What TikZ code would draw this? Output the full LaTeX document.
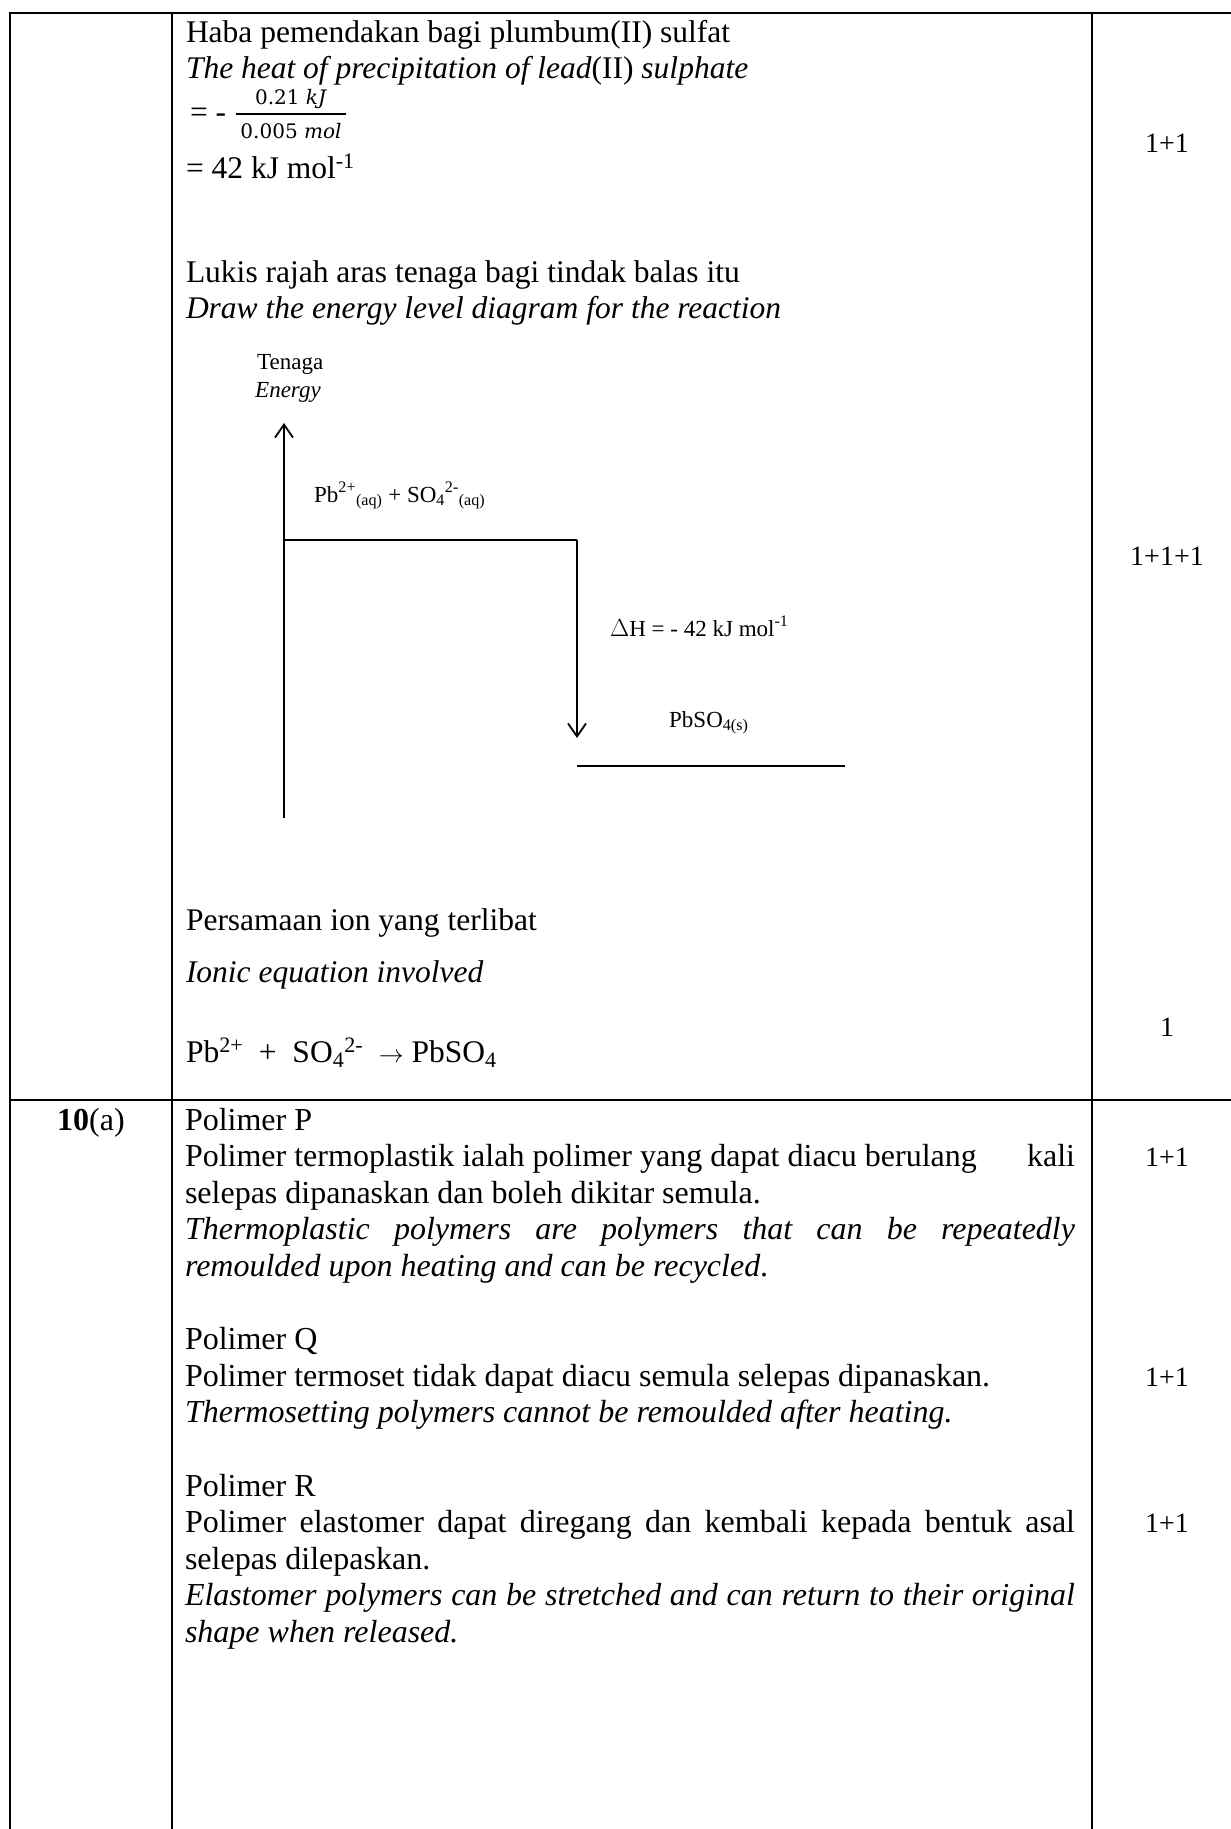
\documentclass[tikz,border=0pt]{standalone}
\usepackage{fontspec}
\setmainfont{Liberation Serif}
\newfontfamily\fracfont{DejaVu Serif}
\usetikzlibrary{arrows.meta}
\newcommand{\JustLine}[1]{\hbox to 890pt{#1}}
\begin{document}
\begin{tikzpicture}[x=1pt,y=-1pt,
  body/.style={anchor=base west,inner sep=0pt,outer sep=0pt,font=\fontsize{31.5}{36}\selectfont},
  bodyit/.style={body,font=\fontsize{31.5}{36}\selectfont\itshape},
  lowbody/.style={anchor=base west,inner sep=0pt,outer sep=0pt,font=\fontsize{32}{36}\selectfont},
  lowbodyit/.style={lowbody,font=\fontsize{32}{36}\selectfont\itshape},
  frac/.style={anchor=base,inner sep=0pt,font=\fracfont\fontsize{20}{22}\selectfont},
  dgm/.style={anchor=base west,inner sep=0pt,font=\fontsize{23}{26}\selectfont},
  markstyle/.style={anchor=base,inner sep=0pt,font=\fontsize{28}{32}\selectfont},
  rule/.style={line width=2.4pt},
  axisline/.style={line width=1.8pt},
  levelline/.style={line width=2.6pt},
  tipped/.style={-{Straight Barb[length=13pt,width=18pt]}}]
\useasboundingbox (0,0) rectangle (1231,1829);
% table
\coordinate (tl) at (10,13); \coordinate (tr) at (1231,13);
\coordinate (bl) at (10,1829);
\coordinate (c1t) at (172,13); \coordinate (c1b) at (172,1829);
\coordinate (c2t) at (1092,13); \coordinate (c2b) at (1092,1829);
\coordinate (rl) at (10,1100); \coordinate (rr) at (1231,1100);
\draw[rule] (bl) -- (tl) -- (tr);
\draw[rule] (c1t) -- (c1b);
\draw[rule] (c2t) -- (c2b);
\draw[rule] (rl) -- (rr);
% upper text
\node[body] (t1) at (186,42) {Haba pemendakan bagi plumbum(II) sulfat};
\node[bodyit] (t2) at (186,78) {The heat of precipitation of lead\upshape(II)\itshape\ sulphate};
\node[body] (feq) at (190,122) {= -};
\node[frac] (fnum) at (291,104) {0.21 \textit{kJ}};
\node[frac] (fden) at (291,138) {0.005 \textit{mol}};
\coordinate (fbl) at (236,114); \coordinate (fbr) at (346,114);
\draw[line width=1.4pt] (fbl) -- (fbr);
\node[body] (t3) at (186,178) {= 42 kJ mol\textsuperscript{-1}};
\node[body] (t4) at (186,282) {Lukis rajah aras tenaga bagi tindak balas itu};
\node[bodyit] (t5) at (186,318) {Draw the energy level diagram for the reaction};
% diagram
\node[dgm] (ten) at (257,369) {Tenaga};
\node[dgm,font=\fontsize{23}{26}\selectfont\itshape] (eng) at (255,397) {Energy};
\coordinate (axb) at (284,818); \coordinate (axt) at (284,423);
\draw[axisline,tipped] (axb) -- (axt);
\coordinate (u0) at (284,540); \coordinate (u1) at (577,540);
\draw[levelline] (u0) -- (u1);
\coordinate (dend) at (577,738);
\draw[axisline,tipped] (u1) -- (dend);
\coordinate (l0) at (577,766); \coordinate (l1) at (845,766);
\draw[levelline] (l0) -- (l1);
\node[dgm] (react) at (314,502) {Pb\textsuperscript{2+}\textsubscript{(aq)} + SO\textsubscript{4}\textsuperscript{2-}\textsubscript{(aq)}};
\node[dgm] (dH) at (610,636) {$\Delta$H = - 42 kJ mol\textsuperscript{-1}};
\node[dgm] (prod) at (669,727) {PbSO\textsubscript{4(s)}};
% ionic equation
\node[body] (t6) at (186,930) {Persamaan ion yang terlibat};
\node[bodyit] (t7) at (186,982) {Ionic equation involved};
\node[body] (t8) at (186,1062) {Pb\textsuperscript{2+}~ + ~SO\textsubscript{4}\textsuperscript{2-}~ $\rightarrow$ PbSO\textsubscript{4}};
% marks upper
\node[markstyle] (m1) at (1167,152) {1+1};
\node[markstyle] (m2) at (1167,565) {1+1+1};
\node[markstyle] (m3) at (1167,1036) {1};
% lower
\node[lowbody,anchor=base] (q) at (91,1130) {\textbf{10}(a)};
\node[lowbody] (p1) at (185,1130) {Polimer P};
\node[lowbody] (p2) at (185,1166.6) {\JustLine{Polimer termoplastik ialah polimer yang dapat diacu berulang\hfill kali}};
\node[lowbody] (p3) at (185,1203.2) {selepas dipanaskan dan boleh dikitar semula.};
\node[lowbodyit] (p4) at (185,1239.8) {\JustLine{Thermoplastic polymers are polymers that can be repeatedly}};
\node[lowbodyit] (p5) at (185,1276.4) {remoulded upon heating and can be recycled\upshape.};
\node[lowbody] (p6) at (185,1349.6) {Polimer Q};
\node[lowbody] (p7) at (185,1386.2) {Polimer termoset tidak dapat diacu semula selepas dipanaskan.};
\node[lowbodyit] (p8) at (185,1422.8) {Thermosetting polymers cannot be remoulded after heating.};
\node[lowbody] (p9) at (185,1496) {Polimer R};
\node[lowbody] (p10) at (185,1532.6) {\JustLine{Polimer elastomer dapat diregang dan kembali kepada bentuk asal}};
\node[lowbody] (p11) at (185,1569.2) {selepas dilepaskan.};
\node[lowbodyit] (p12) at (185,1605.8) {\JustLine{Elastomer polymers can be stretched and can return to their original}};
\node[lowbodyit] (p13) at (185,1642.4) {shape when released.};
\node[markstyle] (m4) at (1167,1166.6) {1+1};
\node[markstyle] (m5) at (1167,1386.2) {1+1};
\node[markstyle] (m6) at (1167,1532.6) {1+1};
\end{tikzpicture}
\end{document}
